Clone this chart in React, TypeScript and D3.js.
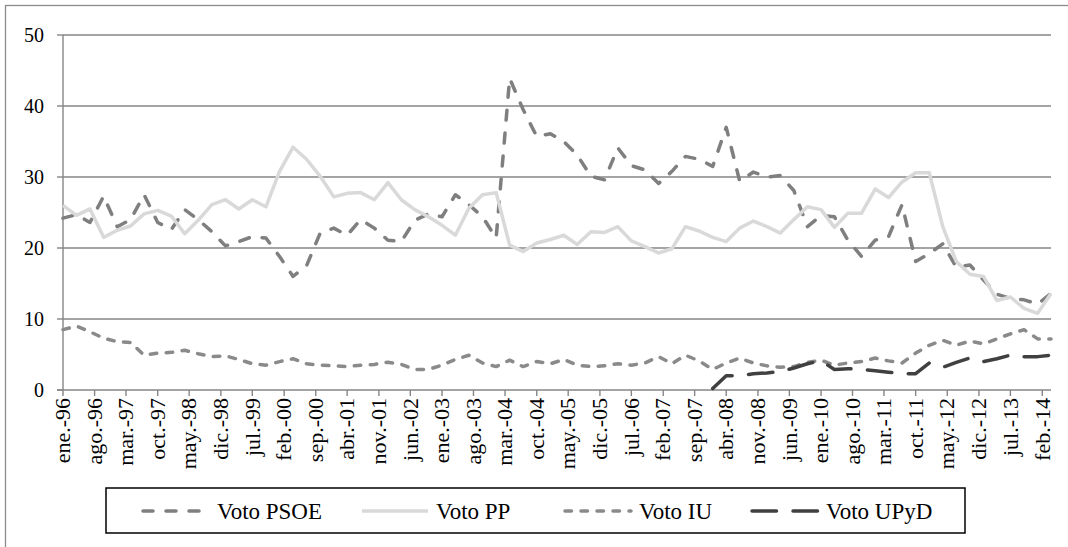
import * as d3 from "d3";

const monthNames = ["ene.", "feb.", "mar.", "abr.", "may.", "jun.", "jul.", "ago.", "sep.", "oct.", "nov.", "dic."];

const tickLabels = [
  "ene.-96", "ago.-96", "mar.-97", "oct.-97", "may.-98", "dic.-98", "jul.-99", "feb.-00",
  "sep.-00", "abr.-01", "nov.-01", "jun.-02", "ene.-03", "ago.-03", "mar.-04", "oct.-04",
  "may.-05", "dic.-05", "jul.-06", "feb.-07", "sep.-07", "abr.-08", "nov.-08", "jun.-09",
  "ene.-10", "ago.-10", "mar.-11", "oct.-11", "may.-12", "dic.-12", "jul.-13", "feb.-14",
];

const yTicks = [0, 10, 20, 30, 40, 50];

// quarterly estimates, starting ene.-96
const psoe = [
  24.2, 24.7, 23.6, 27.3, 23.0, 24.0, 27.5, 23.6, 22.6, 25.4,
  24.0, 22.3, 20.3, 20.9, 21.6, 21.4, 18.8, 16.0, 17.5, 22.1,
  22.8, 21.8, 24.0, 22.8, 21.1, 20.9, 23.9, 24.8, 24.4, 27.5,
  26.1, 24.4, 21.4, 43.9, 39.5, 35.7, 36.1, 35.0, 33.1, 30.1,
  29.6, 34.1, 31.6, 31.0, 29.1, 30.8, 32.9, 32.5, 31.5, 37.0,
  29.4, 30.7, 30.0, 30.2, 28.1, 23.0, 24.6, 24.4, 21.1, 18.8,
  21.1, 21.6, 26.1, 18.1, 19.2, 20.6, 17.3, 17.6, 15.5, 13.5,
  12.9, 12.7, 12.1, 13.6,
];

const pp = [
  26.0, 24.6, 25.5, 21.5, 22.5, 23.1, 24.8, 25.3, 24.5, 22.0,
  23.9, 26.1, 26.8, 25.5, 26.8, 25.8, 30.8, 34.2, 32.5, 30.1,
  27.2, 27.7, 27.8, 26.8, 29.2, 26.8, 25.4, 24.4, 23.2, 21.8,
  25.6, 27.5, 27.8, 20.4, 19.5, 20.7, 21.2, 21.8, 20.5, 22.3,
  22.2, 23.0, 21.0, 20.2, 19.3, 19.9, 23.0, 22.4, 21.5, 20.9,
  22.8, 23.8, 23.0, 22.1, 24.0, 25.8, 25.4, 22.9, 24.9, 24.9,
  28.3, 27.1, 29.3, 30.6, 30.6, 23.0, 18.1, 16.3, 16.0, 12.6,
  13.1, 11.5, 10.8, 13.6,
];

const iu = [
  8.5, 9.0, 8.2, 7.3, 6.8, 6.7, 4.9, 5.2, 5.3, 5.6,
  5.1, 4.7, 4.8, 4.3, 3.7, 3.5, 4.0, 4.4, 3.7, 3.5,
  3.4, 3.3, 3.5, 3.6, 3.9, 3.6, 2.9, 2.9, 3.5, 4.3,
  4.9, 3.8, 3.3, 4.2, 3.3, 4.0, 3.7, 4.3, 3.5, 3.3,
  3.4, 3.7, 3.5, 3.8, 4.7, 3.7, 4.9, 4.1, 2.9, 3.8,
  4.5, 3.8, 3.4, 3.2, 3.3, 3.9, 4.2, 3.5, 3.8, 4.0,
  4.5, 4.1, 3.8, 5.2, 6.3, 7.0, 6.3, 6.9, 6.5, 7.2,
  7.9, 8.5, 7.2, 7.2,
];

// UPyD only appears from ene.-08 (quarter 48)
const upydFrom = 48;
const upyd = [
  0.2, 2.0, 2.0, 2.3, 2.4, 2.6, 3.1, 3.7, 4.1, 2.9,
  3.0, 2.9, 2.7, 2.5, 2.3, 2.3, 3.8, 3.2, 3.9, 4.5,
  4.0, 4.4, 4.9, 4.7, 4.7, 4.9,
];

const start = new Date(Date.UTC(1996, 0, 1));
const quarterDate = (i: number) => d3.utcMonth.offset(start, 3 * i);

function parseLabel(s: string) {
  const [m, yy] = s.split("-");
  const y = +yy > 50 ? 1900 + +yy : 2000 + +yy;
  return new Date(Date.UTC(y, monthNames.indexOf(m), 1));
}

type Pt = { date: Date; value: number };

const series = [
  { name: "Voto PSOE", points: psoe.map((v, i) => ({ date: quarterDate(i), value: v })), color: "#7f7f7f", dash: "10 13" },
  { name: "Voto PP", points: pp.map((v, i) => ({ date: quarterDate(i), value: v })), color: "#d9d9d9", dash: "none" },
  { name: "Voto IU", points: iu.map((v, i) => ({ date: quarterDate(i), value: v })), color: "#8a8a8a", dash: "6.5 9.5" },
  { name: "Voto UPyD", points: upyd.map((v, i) => ({ date: quarterDate(i + upydFrom), value: v })), color: "#404040", dash: "24.5 16.5" },
];

const legendX = [143, 362, 565, 752];

const font = "'Liberation Serif', Tinos, 'Times New Roman', Times, 'Noto Serif', 'DejaVu Serif', serif";

export default function App() {
  const width = 1068;
  const height = 547;
  const left = 63;
  const right = 1051;
  const top = 35;
  const bottom = 390;

  const x = d3.scaleUtc([start, quarterDate(psoe.length - 1)], [left, right]);
  const y = d3.scaleLinear([0, 50], [bottom, top]);
  const line = d3
    .line<Pt>()
    .x((d) => x(d.date))
    .y((d) => y(d.value));

  const txt = { fontFamily: font, fill: "#000" };

  return (
    <svg
      width={width}
      height={height}
      style={{ position: "absolute", left: 0, top: 0, display: "block", background: "#fff" }}
    >
      <rect x={5.5} y={5.5} width={1080} height={580} fill="#fff" stroke="#8c8c8c" strokeWidth={1.3} />

      {yTicks.map((t) => (
        <g key={t}>
          {t > 0 && <line x1={left} x2={right} y1={y(t)} y2={y(t)} stroke="#868686" strokeWidth={1.4} />}
          <line x1={left - 6} x2={left} y1={y(t)} y2={y(t)} stroke="#868686" strokeWidth={1.4} />
          <text x={left - 19} y={y(t)} dy="0.35em" textAnchor="end" fontSize={20} style={txt}>
            {t}
          </text>
        </g>
      ))}

      <line x1={left} x2={left} y1={top} y2={bottom} stroke="#868686" strokeWidth={1.4} />
      <line x1={left - 6} x2={right} y1={bottom} y2={bottom} stroke="#868686" strokeWidth={1.4} />

      {tickLabels.map((lab) => {
        const tx = x(parseLabel(lab));
        return (
          <g key={lab}>
            <line x1={tx} x2={tx} y1={bottom} y2={bottom + 6} stroke="#868686" strokeWidth={1.4} />
            <text
              transform={`translate(${tx},${bottom + 8}) rotate(-90)`}
              dy="0.33em"
              textAnchor="end"
              fontSize={22}
              style={txt}
            >
              {lab}
            </text>
          </g>
        );
      })}

      {series.map((s) => (
        <path
          key={s.name}
          d={line(s.points) as string}
          fill="none"
          stroke={s.color}
          strokeWidth={3.5}
          strokeDasharray={s.dash}
          strokeLinecap={s.dash === "none" ? "butt" : "round"}
          strokeLinejoin="round"
        />
      ))}

      <rect x={106} y={488} width={859} height={45} fill="#fff" stroke="#000" strokeWidth={1.5} />
      {series.map((s, i) => (
        <g key={s.name} transform={`translate(${legendX[i]},${511})`}>
          <line
            x1={0}
            x2={66}
            y1={0}
            y2={0}
            stroke={s.color}
            strokeWidth={3.5}
            strokeDasharray={s.dash}
            strokeLinecap={s.dash === "none" ? "butt" : "round"}
          />
          <text x={74} y={0} dy="0.35em" fontSize={23} style={txt}>
            {s.name}
          </text>
        </g>
      ))}
    </svg>
  );
}
